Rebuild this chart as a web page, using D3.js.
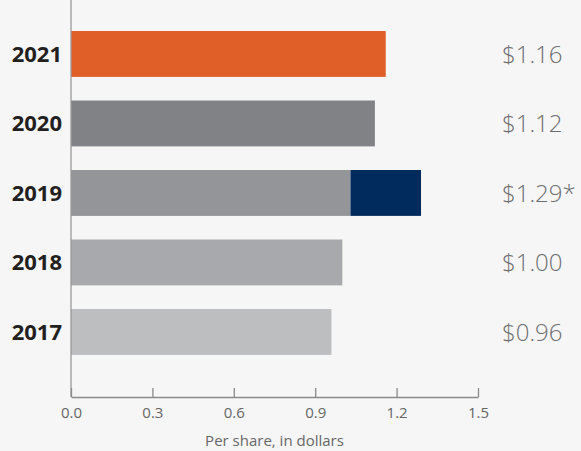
<!DOCTYPE html>
<html>
<head>
<meta charset="utf-8">
<script src="https://cdn.jsdelivr.net/npm/d3@7"></script>
<style>
  html, body { margin: 0; padding: 0; background: #f6f6f6; }
  svg { display: block; }
</style>
</head>
<body>
<svg id="chart"></svg>
<script>
// Dividends per share, 2017-2021
const years = ['2021', '2020', '2019', '2018', '2017'];
const baseValues = [1.16, 1.12, 1.03, 1.00, 0.96];
const specialValues = [0, 0, 0.26, 0, 0];
const valueLabels = ['$1.16', '$1.12', '$1.29*', '$1.00', '$0.96'];
const xTicks = [0, 0.3, 0.6, 0.9, 1.2, 1.5];
const axisTitle = 'Per share, in dollars';

const barColors = ['#e05e27', '#808285', '#939598', '#a7a9ac', '#bcbec0'];
const specialColor = '#002b5c';

function renderChart() {
  const width = 581;
  const height = 451;

  const svg = d3.select('#chart')
    .attr('width', width)
    .attr('height', height);

  const xScale = d3.scaleLinear()
    .domain([0, 1.5])
    .range([71, 478]);

  const yScale = d3.scaleBand()
    .domain(years)
    .range([19.2, 366.7])
    .paddingInner(0.34)
    .paddingOuter(0.17);

  const rows = years.map((y, i) => ({
    year: y,
    base: baseValues[i],
    special: specialValues[i],
    label: valueLabels[i],
    color: barColors[i]
  }));

  // base bars
  svg.selectAll('.bar')
    .data(rows)
    .enter()
    .append('rect')
    .attr('class', 'bar')
    .attr('x', xScale(0))
    .attr('y', d => yScale(d.year))
    .attr('width', d => xScale(d.base) - xScale(0))
    .attr('height', yScale.bandwidth())
    .attr('fill', d => d.color);

  // special dividend segment
  svg.selectAll('.special')
    .data(rows.filter(d => d.special > 0))
    .enter()
    .append('rect')
    .attr('class', 'special')
    .attr('x', d => xScale(d.base))
    .attr('y', d => yScale(d.year))
    .attr('width', d => xScale(d.base + d.special) - xScale(d.base))
    .attr('height', yScale.bandwidth())
    .attr('fill', specialColor);

  // vertical baseline
  svg.append('line')
    .attr('x1', xScale(0))
    .attr('x2', xScale(0))
    .attr('y1', 0)
    .attr('y2', 397)
    .attr('stroke', '#9a9a9a')
    .attr('stroke-width', 1.3);

  // bottom axis, ticks pointing up
  const xAxis = svg.append('g')
    .attr('transform', 'translate(0,397)')
    .call(d3.axisBottom(xScale)
      .tickValues(xTicks)
      .tickFormat(d3.format('.1f'))
      .tickSizeInner(-9)
      .tickSizeOuter(0)
      .tickPadding(10));

  xAxis.select('.domain')
    .attr('stroke', '#8a8a8a')
    .attr('stroke-width', 1.3);
  xAxis.selectAll('.tick line')
    .attr('stroke', '#8a8a8a')
    .attr('stroke-width', 1.3);
  xAxis.selectAll('.tick text')
    .attr('fill', '#666')
    .style('font-family', '"Open Sans", sans-serif')
    .style('font-size', '15px');

  svg.append('text')
    .attr('x', (xScale(0) + xScale(1.5)) / 2)
    .attr('y', 446)
    .attr('text-anchor', 'middle')
    .attr('fill', '#666')
    .style('font-family', '"Open Sans", sans-serif')
    .style('font-size', '15px')
    .text(axisTitle);

  // year labels
  svg.selectAll('.year')
    .data(rows)
    .enter()
    .append('text')
    .attr('class', 'year')
    .attr('x', 62)
    .attr('y', d => yScale(d.year) + yScale.bandwidth() / 2 + 8)
    .attr('text-anchor', 'end')
    .attr('fill', '#231f20')
    .style('font-family', '"Open Sans", sans-serif')
    .style('font-weight', 'bold')
    .style('font-size', '22px')
    .text(d => d.year);

  // value labels
  svg.selectAll('.value')
    .data(rows)
    .enter()
    .append('text')
    .attr('class', 'value')
    .attr('x', 502)
    .attr('y', d => yScale(d.year) + yScale.bandwidth() / 2 + 9)
    .attr('fill', '#6d6e71')
    .style('font-family', '"Open Sans", sans-serif')
    .style('font-weight', 300)
    .style('font-size', '24px')
    .text(d => d.label);
}

renderChart();
</script>
</body>
</html>
